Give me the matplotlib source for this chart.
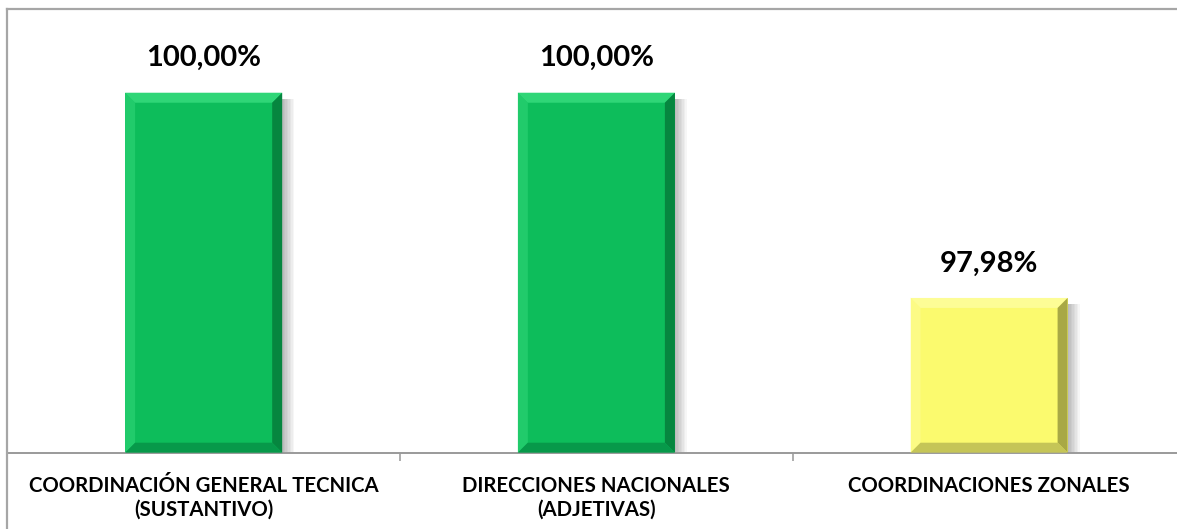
import matplotlib.pyplot as plt
from matplotlib.patches import Polygon, Rectangle
from matplotlib.lines import Line2D

categories = ["COORDINACIÓN GENERAL TECNICA\n(SUSTANTIVO)",
              "DIRECCIONES NACIONALES\n(ADJETIVAS)",
              "COORDINACIONES ZONALES"]
values = [100.00, 100.00, 97.98]
value_labels = ["100,00%", "100,00%", "97,98%"]

# face, light (top/left), dark (right), darker (bottom)
palette = {
    "green": ("#0DBD5B", "#2FD677", "#06863F", "#07994A"),
    "yellow": ("#FBFA6E", "#FDFD96", "#A8A845", "#C5C557"),
}
bar_styles = ["green", "green", "yellow"]

plt.rcParams["font.family"] = ["Lato", "DejaVu Sans"]

W, H = 1177, 529
fig = plt.figure(figsize=(W / 100, H / 100), dpi=100)

x_left, cat_w = 7.3, 392.7
y_axis, y_top = 452.7, 9
# axes runs to the right edge of the picture (chart is cropped there)
ax = fig.add_axes([x_left / W, (H - y_axis) / H, (W - x_left) / W, (y_axis - y_top) / H])
ax.patch.set_visible(False)

ymin, ymax = 96.457, 100.824
ax.set_xlim(-0.5, -0.5 + (W - x_left) / cat_w)
ax.set_ylim(ymin, ymax)

bar_w = 0.40
xs = list(range(len(values)))
px_x = 1 / cat_w                         # data units per pixel, x
px_y = (ymax - ymin) / (y_axis - y_top)  # data units per pixel, y
bev = 10

for x, v, style in zip(xs, values, bar_styles):
    face, light, dark, darker = palette[style]
    x0, x1 = x - bar_w / 2, x + bar_w / 2
    y0, y1 = ymin, v
    bx, by = bev * px_x, bev * px_y
    # soft shadow to the right
    for k in range(1, 9):
        ax.add_patch(Rectangle((x1, y0), k * 1.5 * px_x, (y1 - y0) - 6 * px_y,
                               facecolor="#000000", alpha=0.035, lw=0, zorder=1))
    ax.bar(x, v - ymin, bottom=ymin, width=bar_w, color=face, zorder=2)
    # bevel edges
    ax.add_patch(Polygon([(x0, y1), (x1, y1), (x1 - bx, y1 - by), (x0 + bx, y1 - by)],
                         closed=True, facecolor=light, lw=0, zorder=3))
    ax.add_patch(Polygon([(x0, y0), (x0, y1), (x0 + bx, y1 - by), (x0 + bx, y0 + by)],
                         closed=True, facecolor=light, alpha=0.6, lw=0, zorder=3))
    ax.add_patch(Polygon([(x1, y0), (x1, y1), (x1 - bx, y1 - by), (x1 - bx, y0 + by)],
                         closed=True, facecolor=dark, lw=0, zorder=3))
    ax.add_patch(Polygon([(x0, y0), (x1, y0), (x1 - bx, y0 + by), (x0 + bx, y0 + by)],
                         closed=True, facecolor=darker, lw=0, zorder=3))

for x, v, lab in zip(xs, values, value_labels):
    ax.annotate(lab, (x, v), xytext=(0, 19), textcoords="offset points",
                ha="center", va="baseline", fontsize=21, fontweight="bold",
                color="#000000")

ax.set_xticks(xs)
ax.set_xticklabels(categories, fontsize=14.7, fontweight="bold", linespacing=1.2)
ax.tick_params(axis="x", which="major", length=0, pad=17)
ax.set_xticks([0.5, 1.5], minor=True)
ax.tick_params(axis="x", which="minor", length=6, width=1.2, color="#A0A0A0")
ax.set_yticks([])
for s in ["left", "right", "top"]:
    ax.spines[s].set_visible(False)
ax.spines["bottom"].set_color("#9A9A9A")
ax.spines["bottom"].set_linewidth(1.4)

# chart border (left and top edges visible)
fig.add_artist(Line2D([6.5 / W, 6.5 / W], [0, (H - y_top) / H], transform=fig.transFigure,
                      color="#A6A6A6", lw=1.6))
fig.add_artist(Line2D([6.5 / W, 1], [(H - y_top) / H, (H - y_top) / H],
                      transform=fig.transFigure, color="#A6A6A6", lw=1.6))

fig.savefig("out.png", dpi=100)
